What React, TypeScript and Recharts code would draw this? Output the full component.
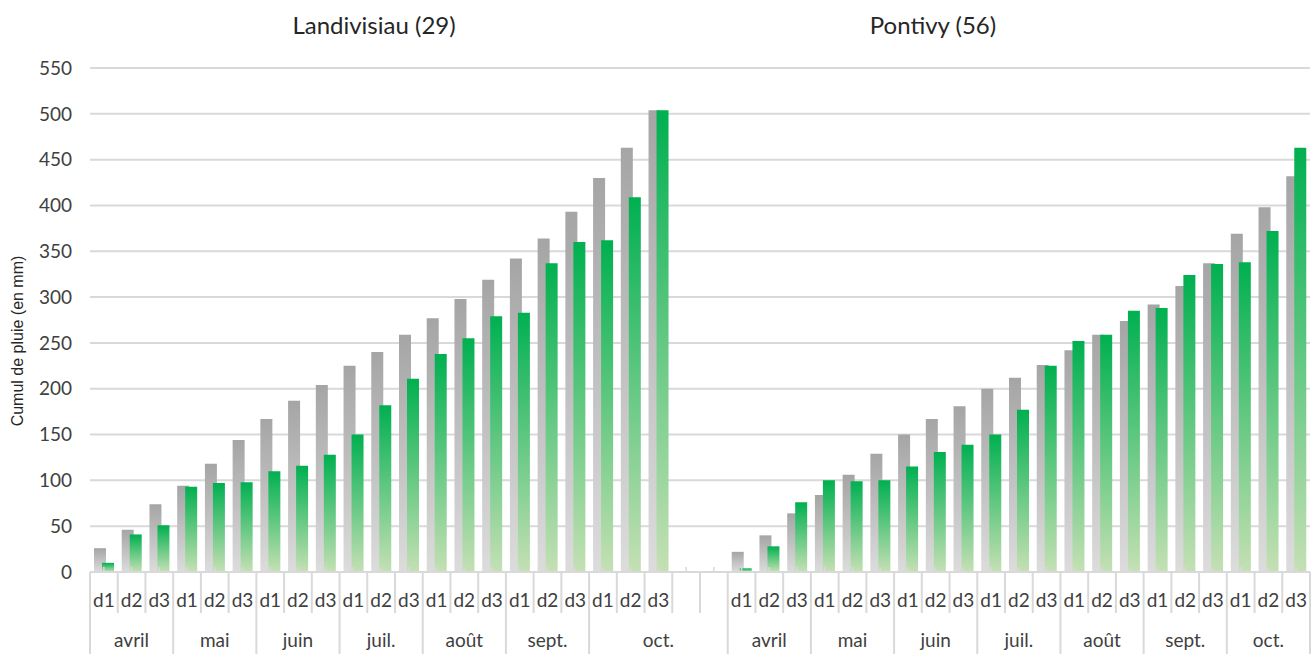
import React from "react"
import { BarChart, Bar, XAxis, YAxis, CartesianGrid } from "recharts"

const months = ["avril", "mai", "juin", "juil.", "août", "sept.", "oct."]
const decades = ["d1", "d2", "d3"]
const yTicks = [0, 50, 100, 150, 200, 250, 300, 350, 400, 450, 500, 550]

// Landivisiau (29)
const landiNormal = [26, 46, 74, 94, 118, 144, 167, 187, 204, 225, 240, 259, 277, 298, 319, 342, 364, 393, 430, 463, 504]
const landiRain = [10, 41, 51, 93, 97, 98, 110, 116, 128, 150, 182, 211, 238, 255, 279, 283, 337, 360, 362, 409, 504]

// Pontivy (56)
const pontiNormal = [22, 40, 64, 84, 106, 129, 150, 167, 181, 200, 212, 226, 242, 259, 274, 292, 312, 337, 369, 398, 432]
const pontiRain = [4, 28, 76, 100, 99, 100, 115, 131, 139, 150, 177, 225, 252, 259, 285, 288, 324, 336, 338, 372, 463]

const W = 1315
const H = 654
const PLOT_LEFT = 90
const PLOT_RIGHT = 1310
const AXIS_H = 82
const FONT = "Lato, 'Noto Sans', sans-serif"
const TEXT = "#404040"
const LINE = "#d9d9d9"

type Row = {
  cat: string
  month: string
  dec: string
  normal: number | null
  rain: number | null
  groupStart: boolean
  groupMid: boolean
}

const rows: Row[] = []
const addStation = (st: string, normal: number[], rain: number[], blanksAfter: number) => {
  months.forEach((m, mi) => {
    const size = 3 + (mi === months.length - 1 ? blanksAfter : 0)
    for (let k = 0; k < size; k++) {
      const i = mi * 3 + k
      rows.push({
        cat: `${st}-${m}-${k}`,
        month: m,
        dec: k < 3 ? decades[k] : "",
        normal: k < 3 ? normal[i] : null,
        rain: k < 3 ? rain[i] : null,
        groupStart: k === 0,
        groupMid: k === Math.floor(size / 2),
      })
    }
  })
}
addStation("L", landiNormal, landiRain, 2)
addStation("P", pontiNormal, pontiRain, 0)

const STEP = (PLOT_RIGHT - PLOT_LEFT) / rows.length

const AxisTick = (props: any) => {
  const { x, y, payload } = props
  const idx = payload.index
  const row = rows[idx]
  if (!row) return null
  const left = x - STEP / 2
  const right = x + STEP / 2
  return (
    <g>
      <line x1={left} x2={left} y1={y} y2={y + (row.groupStart ? AXIS_H : 41)} stroke={LINE} strokeWidth={2} />
      {idx === rows.length - 1 && (
        <line x1={right} x2={right} y1={y} y2={y + AXIS_H} stroke={LINE} strokeWidth={2} />
      )}
      <line x1={x} x2={x} y1={y - 5} y2={y} stroke={LINE} strokeWidth={1.5} />
      {row.dec && (
        <text x={x} y={y + 35} textAnchor="middle" fill={TEXT} fontSize={19} fontFamily={FONT}>
          {row.dec}
        </text>
      )}
      {row.groupMid && (
        <text x={x} y={y + 75} textAnchor="middle" fill={TEXT} fontSize={19} fontFamily={FONT}>
          {row.month}
        </text>
      )}
    </g>
  )
}

export default function App() {
  return (
    <div style={{ position: "absolute", left: 0, top: 0, width: W, height: H, background: "#fff" }}>
      <BarChart
        width={W}
        height={H}
        data={rows}
        margin={{ top: 68, right: W - PLOT_RIGHT, left: 0, bottom: 0 }}
        barSize={12}
        barGap={-4}
      >
        <defs>
          <linearGradient id="gradNormal" x1="0" y1="0" x2="0" y2="1">
            <stop offset="0%" stopColor="#a5a5a5" />
            <stop offset="100%" stopColor="#dcdcdc" />
          </linearGradient>
          <linearGradient id="gradRain" x1="0" y1="0" x2="0" y2="1">
            <stop offset="0%" stopColor="#00b050" />
            <stop offset="100%" stopColor="#c5e0b4" />
          </linearGradient>
        </defs>
        <CartesianGrid vertical={false} stroke={LINE} strokeWidth={2} />
        <XAxis
          dataKey="cat"
          height={AXIS_H}
          interval={0}
          tickLine={false}
          tickSize={0}
          tickMargin={0}
          axisLine={{ stroke: LINE, strokeWidth: 2 }}
          tick={<AxisTick />}
        />
        <YAxis
          width={PLOT_LEFT}
          domain={[0, 550]}
          ticks={yTicks}
          axisLine={false}
          tickLine={false}
          tickSize={0}
          tickMargin={18}
          tick={{ fill: TEXT, fontSize: 19, fontFamily: FONT }}
        />
        <Bar dataKey="normal" name="Normale" fill="url(#gradNormal)" isAnimationActive={false} />
        <Bar dataKey="rain" name="Cumul" fill="url(#gradRain)" isAnimationActive={false} />
      </BarChart>
      <div
        style={{
          position: "absolute",
          left: 374,
          top: 24,
          transform: "translate(-50%, -50%)",
          fontFamily: FONT,
          fontSize: 24,
          color: "#262626",
          whiteSpace: "nowrap",
        }}
      >
        Landivisiau (29)
      </div>
      <div
        style={{
          position: "absolute",
          left: 933,
          top: 24,
          transform: "translate(-50%, -50%)",
          fontFamily: FONT,
          fontSize: 24,
          color: "#262626",
          whiteSpace: "nowrap",
        }}
      >
        Pontivy (56)
      </div>
      <div
        style={{
          position: "absolute",
          left: 18,
          top: 341,
          transform: "translate(-50%, -50%) rotate(-90deg)",
          fontFamily: "'Liberation Sans', Arial, sans-serif",
          fontSize: 16,
          color: "#262626",
          whiteSpace: "nowrap",
        }}
      >
        Cumul de pluie (en mm)
      </div>
    </div>
  )
}
